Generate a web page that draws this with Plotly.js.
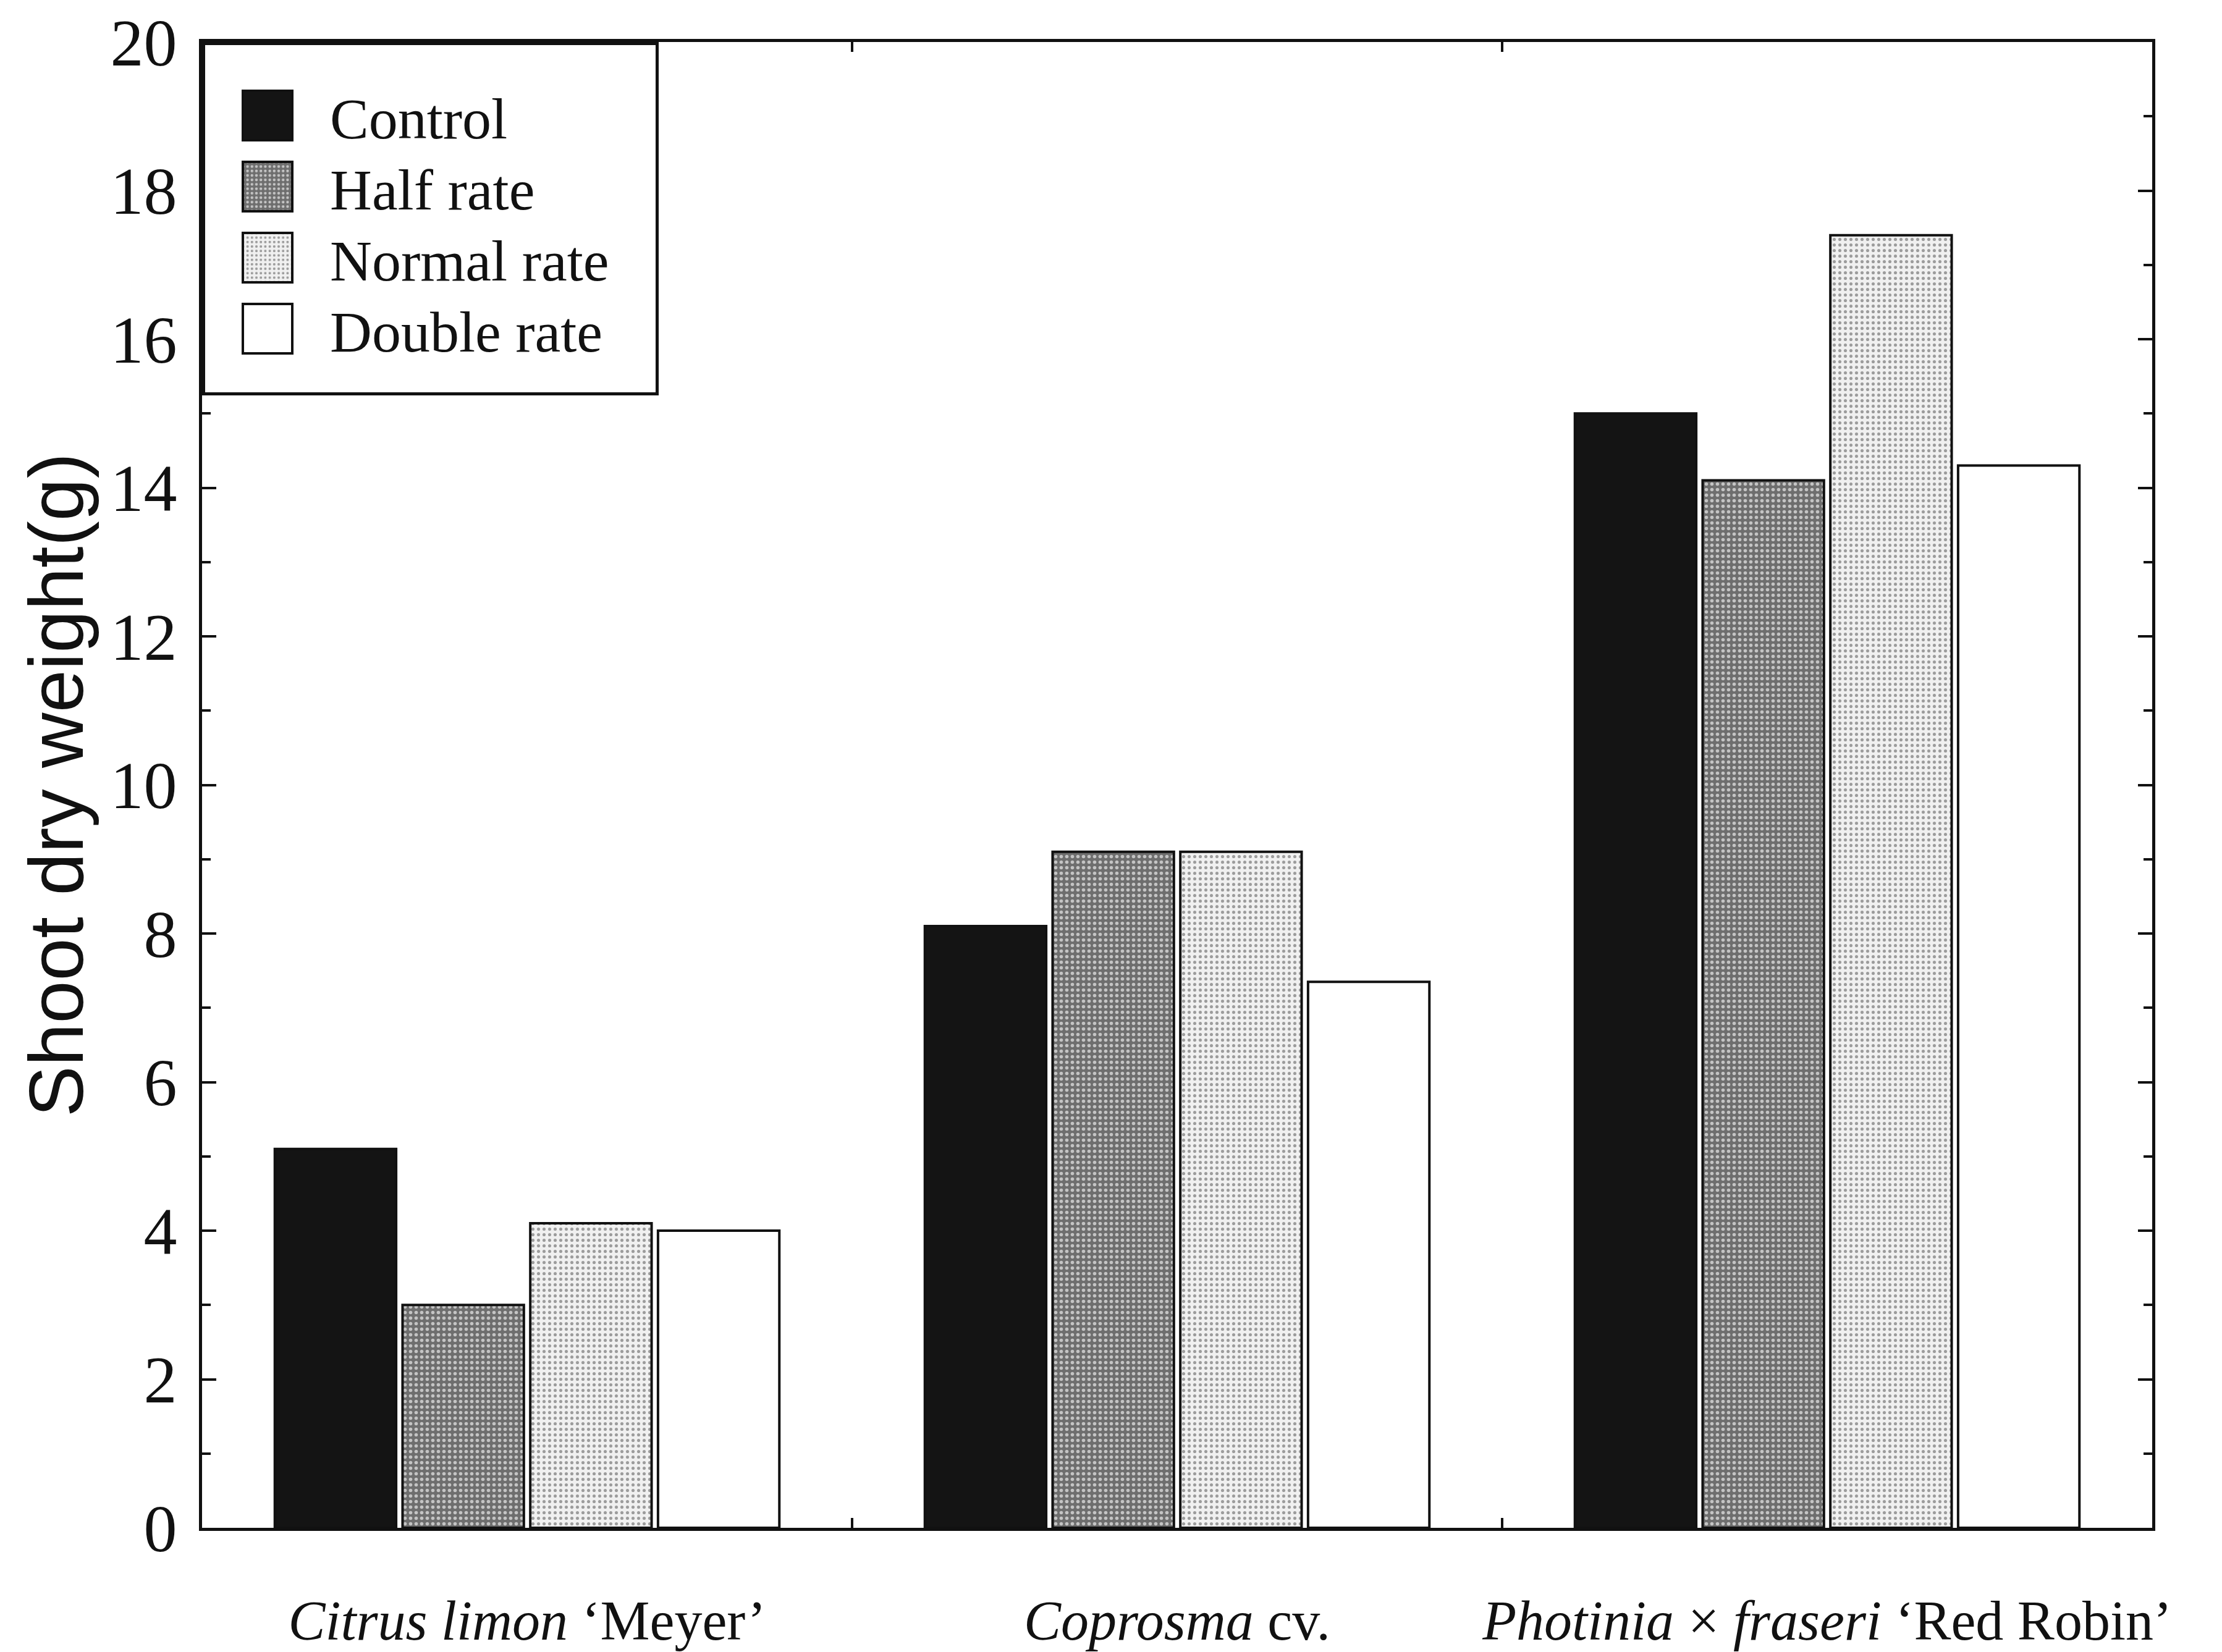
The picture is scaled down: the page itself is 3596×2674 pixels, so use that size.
<!DOCTYPE html>
<html>
<head>
<meta charset="utf-8">
<script src="https://cdn.plot.ly/plotly-3.0.1.min.js"></script>
<style>
  html, body { margin: 0; padding: 0; background: #ffffff; }
  #chart { width: 3596px; height: 2674px; }
</style>
</head>
<body>
<div id="chart"></div>
<script>
// ---- data ----
const categories = ["Citrus limon 'Meyer'", "Coprosma cv.", "Photinia x fraseri 'Red Robin'"];
const categoryLabels = [
  "<i>Citrus limon</i> \u2018Meyer\u2019",
  "<i>Coprosma</i> cv.",
  "<i>Photinia</i> \u00d7 <i>fraseri</i> \u2018Red Robin\u2019"
];
const seriesNames = ["Control", "Half rate", "Normal rate", "Double rate"];
const control    = [5.1, 8.1, 15.0];
const halfRate   = [3.0, 9.1, 14.1];
const normalRate = [4.1, 9.1, 17.4];
const doubleRate = [4.0, 7.35, 14.3];
const yTickValues = [0, 2, 4, 6, 8, 10, 12, 14, 16, 18, 20];

// ---- styles ----
const seriesStyles = [
  { color: '#141414', pattern: null },
  { color: '#7a7a7a', pattern: { shape: '.', bgcolor: '#6e6e6e', fgcolor: '#c4c4c4', size: 9, solidity: 0.3, fillmode: 'replace' } },
  { color: '#e0e0e0', pattern: { shape: '.', bgcolor: '#f0f0f0', fgcolor: '#9c9c9c', size: 9, solidity: 0.25, fillmode: 'replace' } },
  { color: '#ffffff', pattern: null }
];
const seriesValues = [control, halfRate, normalRate, doubleRate];

const traces = seriesNames.map((name, i) => {
  const marker = { color: seriesStyles[i].color, line: { color: '#111111', width: 4 } };
  if (seriesStyles[i].pattern) marker.pattern = seriesStyles[i].pattern;
  return { type: 'bar', name: name, x: categories, y: seriesValues[i], marker: marker };
});

const serif = 'Liberation Serif, Times New Roman, serif';
const layout = {
  width: 3596,
  height: 2674,
  paper_bgcolor: '#ffffff',
  plot_bgcolor: '#ffffff',
  margin: { l: 327, r: 113, t: 68, b: 201, pad: 0 },
  barmode: 'group',
  bargap: 0.214,
  bargroupgap: 0.05,
  font: { family: serif, color: '#111111' },
  showlegend: true,
  legend: {
    x: 0, y: 1, xanchor: 'left', yanchor: 'top',
    xref: 'paper', yref: 'paper',
    bgcolor: '#ffffff', bordercolor: '#111111', borderwidth: 5,
    font: { family: serif, size: 94, color: '#111111' },
    itemwidth: 192,
    title: { text: ' ', font: { size: 40 } },
    traceorder: 'normal',
    itemclick: false, itemdoubleclick: false
  },
  xaxis: {
    type: 'category',
    tickvals: categories,
    ticktext: categoryLabels,
    tickangle: 0,
    tickfont: { family: serif, size: 90, color: '#111111' },
    ticks: 'inside', tickson: 'boundaries', ticklen: 16, tickwidth: 4, tickcolor: '#111111',
    showline: true, linecolor: '#111111', linewidth: 5, mirror: 'ticks',
    showgrid: false, zeroline: false,
    ticklabelstandoff: 68
  },
  yaxis: {
    range: [0, 20],
    tickvals: yTickValues,
    ticktext: yTickValues.map(String),
    tickfont: { family: serif, size: 108, color: '#111111' },
    ticks: 'inside', ticklen: 23, tickwidth: 4, tickcolor: '#111111',
    minor: { dtick: 1, ticks: 'inside', ticklen: 14, tickwidth: 4, tickcolor: '#111111', showgrid: false },
    showline: true, linecolor: '#111111', linewidth: 5, mirror: 'ticks',
    showgrid: false, zeroline: false,
    ticklabelstandoff: 14,
    title: {
      text: 'Shoot dry weight(g)',
      font: { family: 'Liberation Sans, Arial, sans-serif', size: 124, color: '#111111' },
      standoff: 24
    }
  }
};

Plotly.newPlot('chart', traces, layout, { staticPlot: true, displayModeBar: false }).then(function (gd) {
  // enlarge legend swatches to match the reference's large squares
  gd.querySelectorAll('.legend .legendpoints path').forEach(function (p) {
    p.setAttribute('d', 'M40,40H-40V-40H40Z');
  });
  // legend item spacing as in the reference
  gd.querySelectorAll('.legend g.traces').forEach(function (g, i) {
    const t = g.getAttribute('transform') || '';
    const m = /translate\(\s*([-\d.e]+)[ ,]+([-\d.e]+)\s*\)/.exec(t);
    if (m) g.setAttribute('transform', 'translate(' + m[1] + ',' + (119 + i * 115) + ')');
  });
  // legend box size as in the reference
  const bg = gd.querySelector('.legend rect.bg');
  if (bg) { bg.setAttribute('width', '734'); bg.setAttribute('height', '567'); }
  // nudge the y-axis title slightly right, as in the reference
  const yt = gd.querySelector('.g-ytitle');
  if (yt) yt.setAttribute('transform', 'translate(20,0)');
});
</script>
</body>
</html>
